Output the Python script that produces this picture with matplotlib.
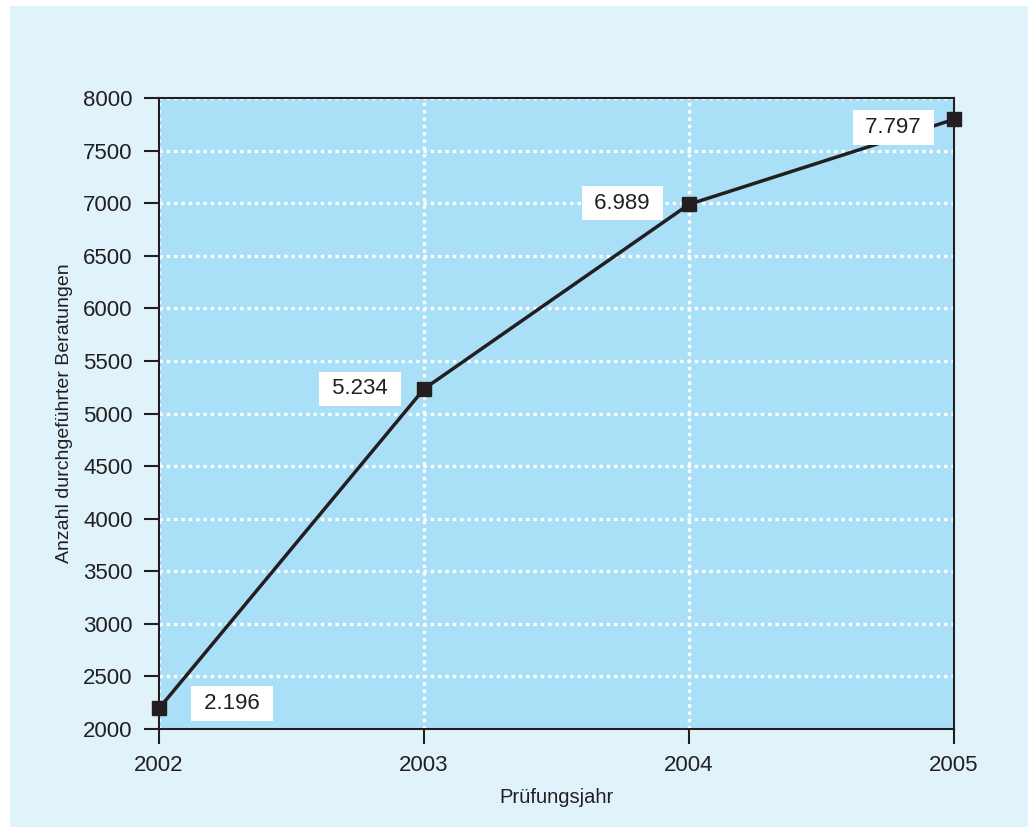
import matplotlib
matplotlib.use("Agg")
import matplotlib.pyplot as plt
from matplotlib.patches import Rectangle

plt.rcParams["font.family"] = ["Liberation Sans Narrow", "Liberation Sans", "DejaVu Sans"]

# Daten
jahre = [2002, 2003, 2004, 2005]
beratungen = [2196, 5234, 6989, 7797]
beschriftungen = ["2.196", "5.234", "6.989", "7.797"]
y_ticks = list(range(2000, 8001, 500))

PANEL = "#e0f3fb"
AXBG = "#aadff8"
INK = "#231f20"

fig = plt.figure(figsize=(10.28, 8.27), dpi=100)
fig.patch.set_facecolor("white")
fig.patches.append(Rectangle((10 / 1028, 0), 1 - 10 / 1028, 821 / 827,
                             transform=fig.transFigure, facecolor=PANEL,
                             edgecolor="none", zorder=-10))

ax = fig.add_axes([0.1547, 0.1185, 0.7734, 0.763])
ax.set_facecolor(AXBG)
ax.plot(jahre, beratungen, color=INK, lw=2.5, marker="s", ms=10,
        clip_on=False, zorder=5)

# Beschriftungen (Versatz in Pixeln)
offsets = [(73, 5), (-64, 0), (-67, 1), (-61, -8)]
for x, y, s, (dx, dy) in zip(jahre, beratungen, beschriftungen, offsets):
    ax.annotate(" " + s + " ", (x, y), xytext=(dx * 0.72, dy * 0.72),
                textcoords="offset points", ha="center", va="center",
                fontsize=16, color=INK, zorder=6,
                bbox=dict(boxstyle="square,pad=0.3", fc="white", ec="none"))

ax.set_xlim(2002, 2005)
ax.set_ylim(2000, 8000)
ax.set_xticks(jahre)
ax.set_yticks(y_ticks)
ax.grid(True, color="white", lw=2.4, linestyle=(0, (1, 1.2)))
ax.set_axisbelow(True)
for sp in ax.spines.values():
    sp.set_color(INK)
    sp.set_linewidth(1.5)
ax.tick_params(length=11, width=1.5, color=INK, labelsize=16,
               labelcolor=INK, pad=8)

ax.set_xlabel("Prüfungsjahr", fontsize=14.5, color=INK, labelpad=8)
ax.set_ylabel("Anzahl durchgeführter Beratungen", fontsize=14, color=INK,
              labelpad=7)

fig.savefig("out.png", dpi=100, facecolor=fig.get_facecolor())
